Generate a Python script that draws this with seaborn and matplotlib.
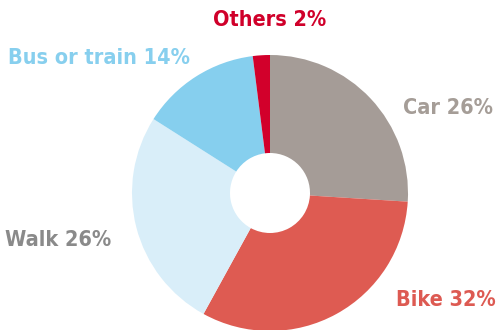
import matplotlib
matplotlib.use("Agg")
import matplotlib.pyplot as plt
import seaborn as sns

categories = ["Car", "Bike", "Walk", "Bus or train", "Others"]
values = [26, 32, 26, 14, 2]
slice_colors = ["#a59c97", "#de5b52", "#d9eef9", "#86cfee", "#d2002b"]
text_colors = ["#a59d97", "#dd5a52", "#8a8a8a", "#87cfee", "#d0002a"]

sns.set_theme(style="white")
plt.rcParams['font.family'] = ['DejaVu Sans']

W, H = 499, 330
fig = plt.figure(figsize=(W / 100, H / 100), dpi=100)
cx, cy, r = 270, 193, 138
ax = fig.add_axes([(cx - r) / W, (H - cy - r) / H, 2 * r / W, 2 * r / H])
ax.pie(values, colors=slice_colors, startangle=90, counterclock=False,
       radius=1, wedgeprops=dict(width=1 - 40 / 138, linewidth=0))
ax.set_xlim(-1, 1)
ax.set_ylim(-1, 1)
ax.set_aspect("equal")
ax.axis("off")

# label anchor positions in pixels (x, centre y, horizontal alignment)
label_pos = {
    "Car": (493, 108, "right"),
    "Bike": (496, 300, "right"),
    "Walk": (5, 240, "left"),
    "Bus or train": (8, 58, "left"),
    "Others": (270, 20, "center"),
}
for cat, val, col in zip(categories, values, text_colors):
    x, y, ha = label_pos[cat]
    fig.text(x / W, 1 - y / H, f"{cat} {val}%", color=col, fontsize=15.5,
             fontweight="bold", fontstretch="condensed", ha=ha, va="center")

fig.savefig("out.png", dpi=100, facecolor="white")
